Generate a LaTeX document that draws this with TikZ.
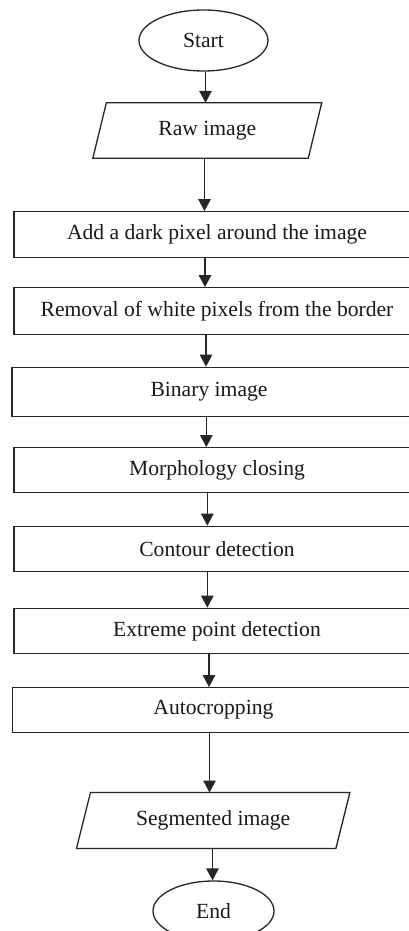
\documentclass[tikz,border=0pt]{standalone}
\usepackage{fontspec}
\setmainfont{Liberation Serif}
\usetikzlibrary{shapes.geometric,arrows.meta}

\tikzset{
  every node/.style={font=\fontsize{21.6}{26}\selectfont, text=black!90},
  line/.style={draw=black!85, line width=1.3pt},
  terminal/.style={line, ellipse, inner sep=0pt},
  procbox/.style={line, rectangle, inner sep=0pt, minimum width=406, minimum height=46},
  iobox/.style={rectangle, inner sep=0pt},
  flow/.style={line, -{Triangle[width=12.5pt,length=12pt]}}
}

\begin{document}
\begin{tikzpicture}[x=1pt, y=-1pt]
  \useasboundingbox (0,0) rectangle (409,931);

  % terminals
  \node[terminal, minimum width=129, minimum height=61] (start) at (203.5,40.5) {Start};
  \node[terminal, minimum width=121, minimum height=60] (end) at (213.5,911) {End};

  % input / output (parallelograms drawn around invisible nodes)
  \node[iobox, minimum width=215, minimum height=55] (raw) at (207.3,130.5) {Raw image};
  \draw[line] ([xshift=6.75]raw.north west) -- ([xshift=6.75]raw.north east)
    -- ([xshift=-6.75]raw.south east) -- ([xshift=-6.75]raw.south west) -- cycle;

  \node[iobox, minimum width=259, minimum height=55.6] (seg) at (213.2,820.5) {Segmented image};
  \draw[line] ([xshift=7]seg.north west) -- ([xshift=7]seg.north east)
    -- ([xshift=-7]seg.south east) -- ([xshift=-7]seg.south west) -- cycle;

  % processing steps
  \node[procbox] (pad) at (217,234.7) {Add a dark pixel around the image};
  \node[procbox, minimum height=46.6] (clear) at (217,311) {Removal of white pixels from the border};
  \node[procbox, minimum width=408, minimum height=49.4] (bin) at (216,392) {\hspace*{-14pt}Binary image};
  \node[procbox, minimum height=44.6] (morph) at (217,470) {Morphology closing};
  \node[procbox, minimum height=45.4] (cont) at (217,549) {Contour detection};
  \node[procbox, minimum height=45] (ext) at (217,630.8) {Extreme point detection};
  \node[procbox, minimum width=407.3, minimum height=44.6] (crop) at (216.4,710) {\hspace*{-6pt}Autocropping};

  % connectors
  \draw[flow] (205.5,0 |- start.south) -- (205.5,0 |- raw.north);
  \draw[flow] (204.5,0 |- raw.south) -- (204.5,0 |- pad.north);
  \draw[flow] (205,0 |- pad.south) -- (205,0 |- clear.north);
  \draw[flow] (206,0 |- clear.south) -- (206,0 |- bin.north);
  \draw[flow] (206.3,0 |- bin.south) -- (206.3,0 |- morph.north);
  \draw[flow] (207.3,0 |- morph.south) -- (207.3,0 |- cont.north);
  \draw[flow] (207.3,0 |- cont.south) -- (207.3,0 |- ext.north);
  \draw[flow] (209,0 |- ext.south) -- (209,0 |- crop.north);
  \draw[flow] (209.5,0 |- crop.south) -- (209.5,0 |- seg.north);
  \draw[flow] (212.5,0 |- seg.south) -- (212.5,0 |- end.north);
\end{tikzpicture}
\end{document}
